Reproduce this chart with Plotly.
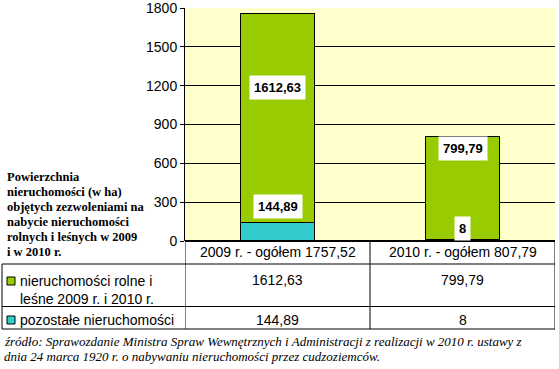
import plotly.graph_objects as go

# ---- data ----
categories = ["2009 r. - ogółem 1757,52", "2010 r. - ogółem 807,79"]
series_names = ["nieruchomości rolne i<br>leśne 2009 r. i 2010 r.", "pozostałe nieruchomości"]
rolne = [1612.63, 799.79]
pozostale = [144.89, 8]
y_ticks = [0, 300, 600, 900, 1200, 1500, 1800]

title_lines = ["Powierzchnia", "nieruchomości (w ha)", "objętych zezwoleniami na",
               "nabycie nieruchomości", "rolnych i leśnych w 2009", "i w 2010 r."]
source_lines = ["źródło: Sprawozdanie Ministra Spraw Wewnętrznych i Administracji z realizacji w 2010 r. ustawy z",
                "dnia 24 marca 1920 r. o nabywaniu nieruchomości przez cudzoziemców."]

# ---- style ----
GREEN = "#99CC00"
CYAN = "#33CCCC"
BG = "#FFFFCC"
SANS = "Liberation Sans, Arial, sans-serif"
SERIF = "Liberation Serif, Times New Roman, serif"
W, H = 559, 369
L, R, T, B = 185, 555, 8, 241  # plot area in pixels
label_y_rolne = [1188, 711]
label_y_poz = [263, 100]


def fx(px):
    return (px - L) / (R - L)


def fy(py):
    return (B - py) / (B - T)


def fmt(v):
    return f"{v:g}".replace(".", ",")


fig = go.Figure()
fig.add_trace(go.Bar(x=categories, y=pozostale, name=series_names[1], marker_color=CYAN,
                     marker_line=dict(color="black", width=1), width=0.396))
fig.add_trace(go.Bar(x=categories, y=rolne, name=series_names[0], marker_color=GREEN,
                     marker_line=dict(color="black", width=1), width=0.396))

ann = []
shapes = []
# data labels
for i, c in enumerate(categories):
    ann.append(dict(x=c, y=label_y_rolne[i], xref="x", yref="y", text=f"<b>{fmt(rolne[i])}</b>",
                    showarrow=False, bgcolor="white", borderpad=4,
                    font=dict(family=SANS, size=13, color="black")))
    ann.append(dict(x=c, y=label_y_poz[i], xref="x", yref="y", text=f"<b>{fmt(pozostale[i])}</b>",
                    showarrow=False, bgcolor="white", borderpad=4,
                    font=dict(family=SANS, size=13, color="black")))
    # header
    ann.append(dict(x=c, y=fy(252), xref="x", yref="paper", text=c, showarrow=False,
                    font=dict(family=SANS, size=14, color="black"), yanchor="middle"))
    # table values
    ann.append(dict(x=c, y=fy(280), xref="x", yref="paper", text=fmt(rolne[i]), showarrow=False,
                    font=dict(family=SANS, size=14, color="black"), yanchor="middle"))
    ann.append(dict(x=c, y=fy(320), xref="x", yref="paper", text=fmt(pozostale[i]), showarrow=False,
                    font=dict(family=SANS, size=14, color="black"), yanchor="middle"))

# legend text in table
ann.append(dict(x=fx(18), y=fy(290), xref="paper", yref="paper", text=series_names[0], showarrow=False,
                xanchor="left", yanchor="middle", align="left",
                font=dict(family=SANS, size=14, color="black")))
ann.append(dict(x=fx(18), y=fy(320), xref="paper", yref="paper", text=series_names[1], showarrow=False,
                xanchor="left", yanchor="middle", align="left",
                font=dict(family=SANS, size=14, color="black")))
# legend keys
for (y0, col) in [(277, GREEN), (316, CYAN)]:
    shapes.append(dict(type="rect", xref="paper", yref="paper", x0=fx(7), x1=fx(15), y0=fy(y0), y1=fy(y0 + 8),
                       fillcolor=col, line=dict(color="black", width=1)))

# left title lines
for k, t in enumerate(title_lines):
    ann.append(dict(x=fx(5), y=fy(177 + 15 * k), xref="paper", yref="paper", text=f"<b>{t}</b>",
                    showarrow=False, xanchor="left", yanchor="middle",
                    font=dict(family=SERIF, size=12.5, color="black")))
# source lines
for k, t in enumerate(source_lines):
    ann.append(dict(x=fx(2), y=fy(341 + 15 * k), xref="paper", yref="paper", text=f"<i>{t}</i>",
                    showarrow=False, xanchor="left", yanchor="middle",
                    font=dict(family=SERIF, size=13, color="black")))

# table grid
for py in [264, 306.5, 329]:
    shapes.append(dict(type="line", xref="paper", yref="paper", x0=fx(2), x1=fx(R), y0=fy(py), y1=fy(py),
                       line=dict(color="black", width=1)))
shapes.append(dict(type="line", xref="paper", yref="paper", x0=fx(2), x1=fx(2), y0=fy(264), y1=fy(329),
                   line=dict(color="black", width=1)))
for xv in [-0.5, 0.5, 1.5]:
    shapes.append(dict(type="line", xref="x", yref="paper", x0=xv, x1=xv, y0=0, y1=fy(329),
                       line=dict(color="black", width=1)))
shapes.append(dict(type="line", xref="paper", yref="paper", x0=0, x1=1, y0=0, y1=0,
                   line=dict(color="black", width=2)))

fig.update_layout(
    width=W, height=H,
    margin=dict(l=L, r=W - R, t=T, b=H - B, autoexpand=False),
    barmode="stack",
    showlegend=False,
    plot_bgcolor=BG, paper_bgcolor="white",
    annotations=ann, shapes=shapes,
    xaxis=dict(range=[-0.5, 1.5], showticklabels=False, showline=False, showgrid=False, zeroline=False,
               ticks="", automargin=False),
    yaxis=dict(range=[0, 1800], tickvals=y_ticks, showgrid=True, gridcolor="black", gridwidth=1,
               showline=True, linecolor="black", linewidth=1, ticks="outside", ticklen=4, tickcolor="black",
               zeroline=False, automargin=False, ticklabeloverflow="allow",
               tickfont=dict(family=SANS, size=14, color="black")),
)

fig.write_html("out.html", config={"displayModeBar": False},
               post_script="document.body.style.margin='0';document.body.style.overflow='hidden';")
